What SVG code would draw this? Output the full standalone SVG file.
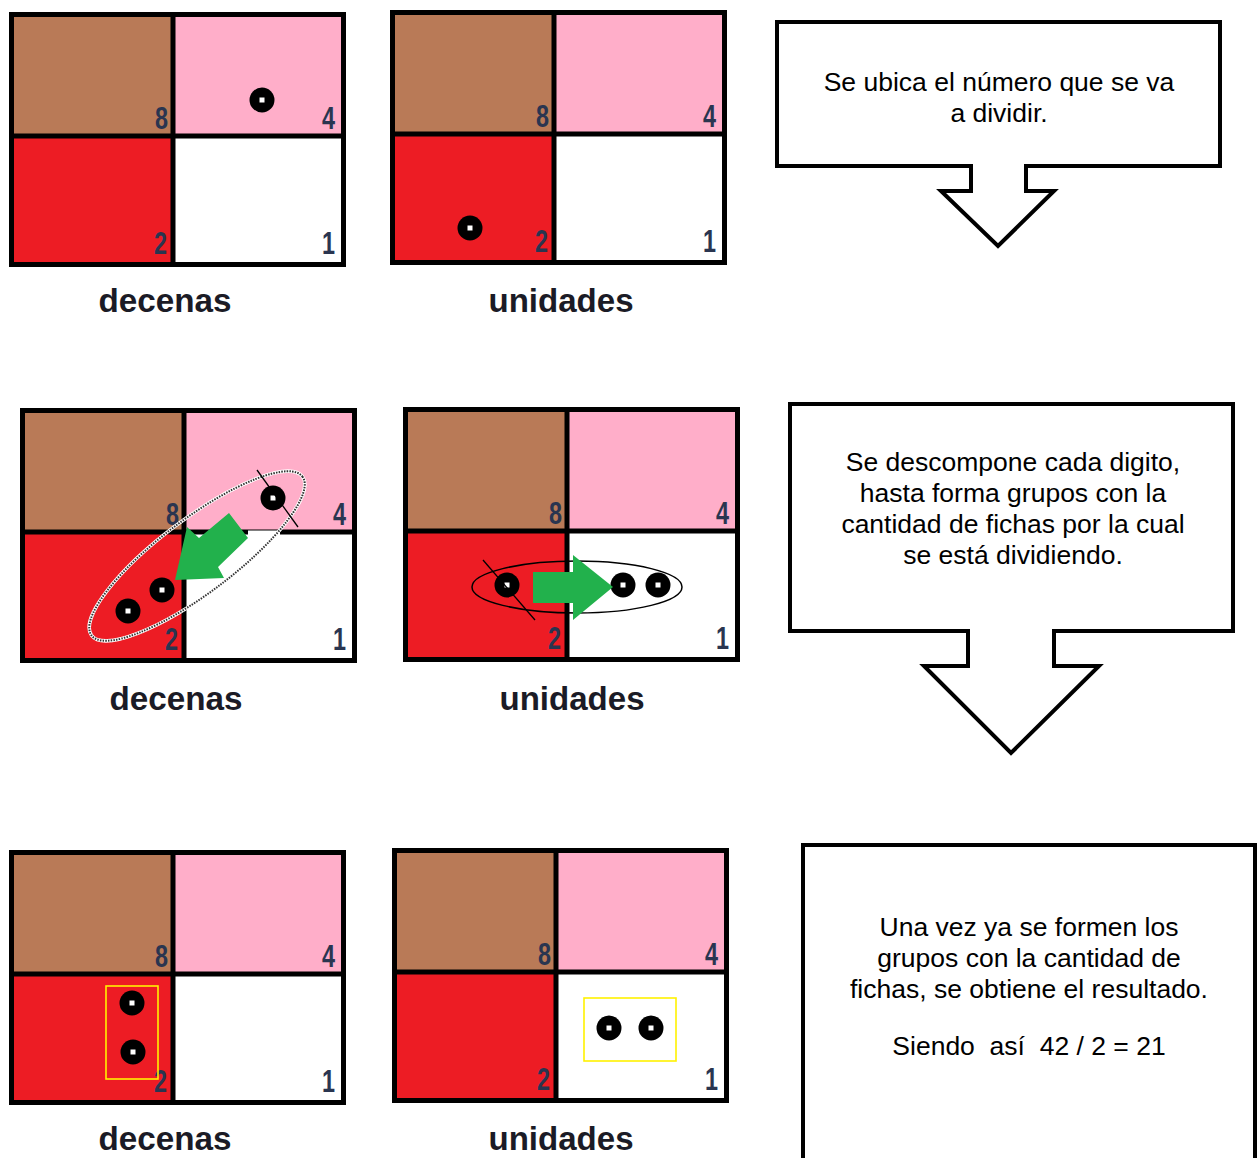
<svg xmlns="http://www.w3.org/2000/svg" xmlns:xlink="http://www.w3.org/1999/xlink" width="1260" height="1158" viewBox="0 0 1260 1158">
  <style>
    .brown { fill: #B97A57; }
    .pink { fill: #FFAEC9; }
    .red { fill: #ED1C24; }
    .white { fill: #FFFFFF; }
    .frame { fill: none; stroke: #000; stroke-width: 5; }
    .digit { font-family: "Liberation Sans", Arial, sans-serif; font-weight: bold; font-size: 31px; fill: #2a3550; }
    .label { font-family: "Liberation Sans", Arial, sans-serif; font-weight: bold; font-size: 34px; fill: #1b1b26; text-anchor: middle; }
    .note { font-family: "Liberation Sans", Arial, sans-serif; font-size: 26.5px; fill: #000; text-anchor: middle; }
    .callout { fill: #fff; stroke: #000; stroke-width: 4; stroke-linejoin: miter; }
    .group-box { fill: none; stroke: #FFF200; stroke-width: 1.6; }
    .move { fill: #22B14C; }
    .strike { stroke: #000; stroke-width: 1.3; }
  </style>
  <defs>
    <!-- place-value board: 8 / 4 / 2 / 1 -->
    <g id="board">
      <rect class="brown" x="0" y="0" width="164" height="124"/>
      <rect class="pink" x="164" y="0" width="173" height="124"/>
      <rect class="red" x="0" y="124" width="164" height="131"/>
      <rect class="white" x="164" y="124" width="173" height="131"/>
      <rect class="frame" x="2.5" y="2.5" width="332" height="250"/>
      <line class="frame" x1="164" y1="0" x2="164" y2="255"/>
      <line class="frame" x1="0" y1="124" x2="337" y2="124"/>
      <text class="digit" x="146" y="117" textLength="13" lengthAdjust="spacingAndGlyphs">8</text>
      <text class="digit" x="313" y="117" textLength="13" lengthAdjust="spacingAndGlyphs">4</text>
      <text class="digit" x="145" y="242" textLength="13" lengthAdjust="spacingAndGlyphs">2</text>
      <text class="digit" x="313" y="242" textLength="13" lengthAdjust="spacingAndGlyphs">1</text>
    </g>
    <!-- counter chip -->
    <g id="chip">
      <circle cx="0" cy="0" r="12.5" fill="#000"/>
      <rect x="-2.5" y="-2.5" width="5" height="5" fill="#fff"/>
    </g>
  </defs>

  <rect x="0" y="0" width="1260" height="1158" fill="#fff"/>

  <!-- Row 1 -->
  <g id="board-tens-1">
    <use xlink:href="#board" href="#board" transform="translate(9,12)"/>
    <use xlink:href="#chip" href="#chip" x="262" y="100"/>
    <text class="label" x="165" y="312" textLength="133" lengthAdjust="spacingAndGlyphs">decenas</text>
  </g>
  <g id="board-units-1">
    <use xlink:href="#board" href="#board" transform="translate(390,10)"/>
    <use xlink:href="#chip" href="#chip" x="470" y="228"/>
    <text class="label" x="561" y="312" textLength="145" lengthAdjust="spacingAndGlyphs">unidades</text>
  </g>
  <g id="note-1">
    <path class="callout" d="M777,22 H1220 V166 H1026 V191 H1054 L998,246 L941,191 H971 V166 H777 Z"/>
    <text class="note" x="999" y="91">Se ubica el número que se va</text>
    <text class="note" x="999" y="122">a dividir.</text>
  </g>

  <!-- Row 2 -->
  <g id="board-tens-2">
    <use xlink:href="#board" href="#board" transform="translate(20,408)"/>
    <line x1="248" y1="533" x2="280" y2="533" stroke="#fff" stroke-width="5"/>
    <ellipse cx="197" cy="556" rx="132" ry="37" transform="rotate(-37 197 556)" fill="none" stroke="#fff" stroke-width="3.5"/>
    <ellipse cx="197" cy="556" rx="132" ry="37" transform="rotate(-37 197 556)" fill="none" stroke="#333" stroke-width="2" stroke-dasharray="1.5 1.2"/>
    <use xlink:href="#chip" href="#chip" x="273" y="498"/>
    <line class="strike" x1="257" y1="470" x2="298" y2="527"/>
    <use xlink:href="#chip" href="#chip" x="162" y="590"/>
    <use xlink:href="#chip" href="#chip" x="128" y="611"/>
    <text class="label" x="176" y="710" textLength="133" lengthAdjust="spacingAndGlyphs">decenas</text>
  </g>
  <g id="board-units-2">
    <use xlink:href="#board" href="#board" transform="translate(403,407)"/>
    <ellipse cx="577" cy="587" rx="105" ry="26" fill="none" stroke="#000" stroke-width="1.5"/>
    <use xlink:href="#chip" href="#chip" x="507" y="585"/>
    <line class="strike" x1="483" y1="560" x2="535" y2="620"/>
    <use xlink:href="#chip" href="#chip" x="623" y="585"/>
    <use xlink:href="#chip" href="#chip" x="658" y="585"/>
    <text class="label" x="572" y="710" textLength="145" lengthAdjust="spacingAndGlyphs">unidades</text>
  </g>
  <g id="note-2">
    <path class="callout" d="M790,404 H1233 V631 H1054 V666 H1099 L1011,753 L924,666 H968 V631 H790 Z"/>
    <text class="note" x="1013" y="471">Se descompone cada digito,</text>
    <text class="note" x="1013" y="502">hasta forma grupos con la</text>
    <text class="note" x="1013" y="533">cantidad de fichas por la cual</text>
    <text class="note" x="1013" y="564">se está dividiendo.</text>
  </g>

  <!-- Row 3 -->
  <g id="board-tens-3">
    <use xlink:href="#board" href="#board" transform="translate(9,850)"/>
    <rect class="group-box" x="106" y="986" width="52" height="93"/>
    <use xlink:href="#chip" href="#chip" x="132" y="1003"/>
    <use xlink:href="#chip" href="#chip" x="133" y="1052"/>
    <text class="label" x="165" y="1150" textLength="133" lengthAdjust="spacingAndGlyphs">decenas</text>
  </g>
  <g id="board-units-3">
    <use xlink:href="#board" href="#board" transform="translate(392,848)"/>
    <rect class="group-box" x="584" y="998" width="92" height="63"/>
    <use xlink:href="#chip" href="#chip" x="609" y="1028"/>
    <use xlink:href="#chip" href="#chip" x="651" y="1028"/>
    <text class="label" x="561" y="1150" textLength="145" lengthAdjust="spacingAndGlyphs">unidades</text>
  </g>
  <g id="note-3">
    <rect class="callout" x="803" y="845" width="452" height="340"/>
    <text class="note" x="1029" y="936">Una vez ya se formen los</text>
    <text class="note" x="1029" y="967">grupos con la cantidad de</text>
    <text class="note" x="1029" y="998">fichas, se obtiene el resultado.</text>
    <text class="note" x="1029" y="1055" xml:space="preserve">Siendo  así  42 / 2 = 21</text>
  </g>

  <!-- movement arrows between cells -->
  <g id="connectors">
    <polygon class="move" points="175,580 187,527 199,538 229,513 248,538 218,567 224,578"/>
    <polygon class="move" points="533,572 573,572 573,555 613,587 573,620 573,603 533,603"/>
  </g>
</svg>
